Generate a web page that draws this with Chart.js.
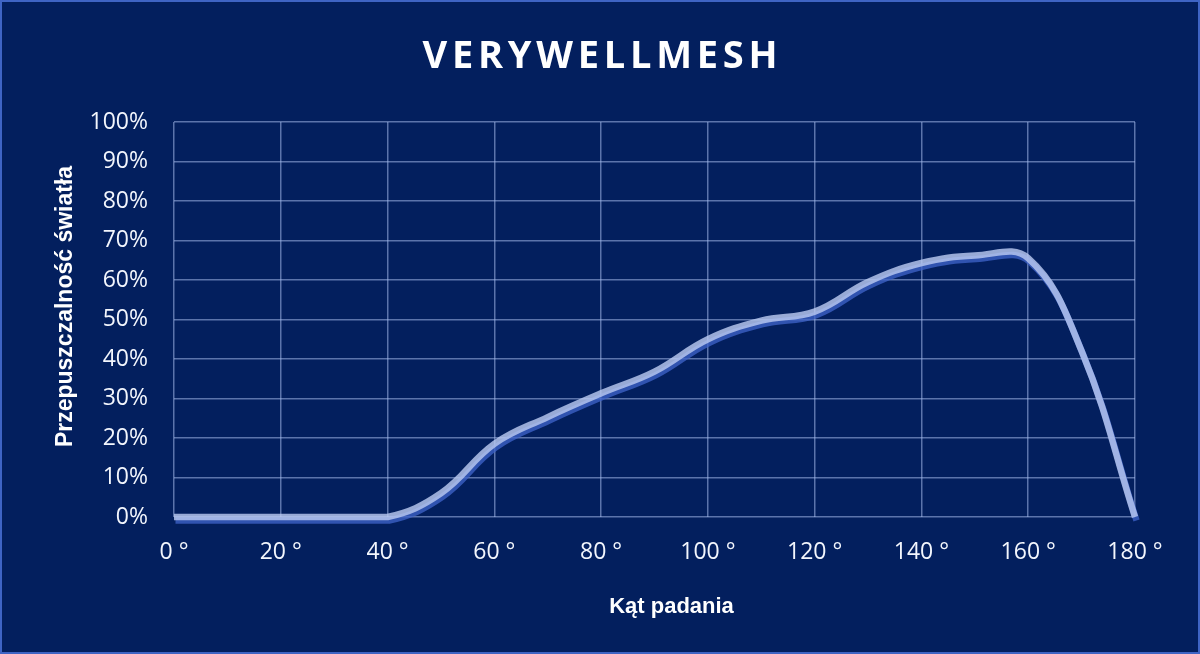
<!DOCTYPE html>
<html><head><meta charset="utf-8">
<script src="https://cdn.jsdelivr.net/npm/chart.js@4.4.1/dist/chart.umd.min.js"></script>
<style>
html,body{margin:0;padding:0;background:#031f5e;}
#wrap{position:absolute;left:0;top:0;width:1200px;height:654px;box-sizing:border-box;border:2px solid #3f64c4;background:#031f5e;}
#c{display:block;}
</style></head><body>
<div id="wrap"><canvas id="c" width="1196" height="650"></canvas></div>
<script>
const chartTitle = 'VERYWELLMESH';
const xAxisTitle = 'Kąt padania';
const yAxisTitle = 'Przepuszczalność światła';
const angles = [0,10,20,30,40,50,60,70,80,90,100,110,120,130,140,150,160,170,180];
const transmission = [0,0,0,0,0,6,18.5,25.3,31.3,36.8,45,49.7,52,59.5,64.3,66.2,65.5,42,0];
const xTickValues = [0,20,40,60,80,100,120,140,160,180];
const yTickValues = [0,10,20,30,40,50,60,70,80,90,100];

const gridColor = 'rgba(165,185,235,0.55)';
const textColor = '#f3f6fd';

const lineShadow = {
  id: 'lineShadow',
  beforeDatasetDraw(chart) {
    const ctx = chart.ctx;
    ctx.save();
    ctx.shadowColor = 'rgba(62,98,200,0.95)';
    ctx.shadowOffsetX = 1.5;
    ctx.shadowOffsetY = 3.5;
    ctx.shadowBlur = 0;
  },
  afterDatasetDraw(chart) { chart.ctx.restore(); }
};

const textLabels = {
  id: 'textLabels',
  afterDraw(chart) {
    const ctx = chart.ctx, a = chart.chartArea;
    ctx.save();
    ctx.fillStyle = '#ffffff';
    ctx.font = 'bold 38px "Open Sans"';
    ctx.letterSpacing = '0px';
    const w0 = ctx.measureText(chartTitle).width;
    const sp = Math.max(0, (355 - w0) / (chartTitle.length - 1));
    ctx.letterSpacing = sp + 'px';
    ctx.textAlign = 'center';
    ctx.textBaseline = 'alphabetic';
    ctx.fillText(chartTitle, chart.width / 2 + sp / 2, 66);
    ctx.letterSpacing = '0px';
    ctx.font = 'bold 22px "Liberation Sans", Arial, sans-serif';
    ctx.fillText(xAxisTitle, (a.left + a.right) / 2 + 17, a.bottom + 96);
    ctx.font = 'bold 23px "Liberation Sans", Arial, sans-serif';
    ctx.translate(70, (a.top + a.bottom) / 2 - 13);
    ctx.rotate(-Math.PI / 2);
    ctx.fillText(yAxisTitle, 0, 0);
    ctx.restore();
  }
};

new Chart(document.getElementById('c'), {
  type: 'line',
  data: {
    datasets: [{
      label: 'VERYWELLMESH',
      data: angles.map((x, i) => ({ x: x, y: transmission[i] })),
      borderColor: 'rgba(185,201,240,0.82)',
      borderWidth: 6.5,
      tension: 0.4,
      pointRadius: 0,
      fill: false,
      clip: 10,
      borderCapStyle: 'butt'
    }]
  },
  options: {
    responsive: false,
    animation: false,
    layout: { padding: { top: 120, right: 63, left: 0, bottom: 0 } },
    plugins: { legend: { display: false }, title: { display: false }, tooltip: { enabled: false } },
    scales: {
      x: {
        type: 'linear', min: 0, max: 180,
        afterBuildTicks: s => { s.ticks = xTickValues.map(v => ({ value: v })); },
        afterFit: s => { s.height = 135; },
        ticks: { callback: v => v + ' °', color: textColor, font: { family: 'Open Sans', size: 23 }, padding: 22, maxRotation: 0, autoSkip: false },
        grid: { color: gridColor, lineWidth: 1.5, drawTicks: false },
        border: { display: false }
      },
      y: {
        min: 0, max: 100,
        afterBuildTicks: s => { s.ticks = yTickValues.map(v => ({ value: v })); },
        afterFit: s => { s.width = 172; },
        ticks: { callback: v => v + '%', color: textColor, font: { family: 'Open Sans', size: 23 }, padding: 26 },
        grid: { color: gridColor, lineWidth: 1.5, drawTicks: false },
        border: { display: false }
      }
    }
  },
  plugins: [lineShadow, textLabels]
});
</script>
</body></html>
